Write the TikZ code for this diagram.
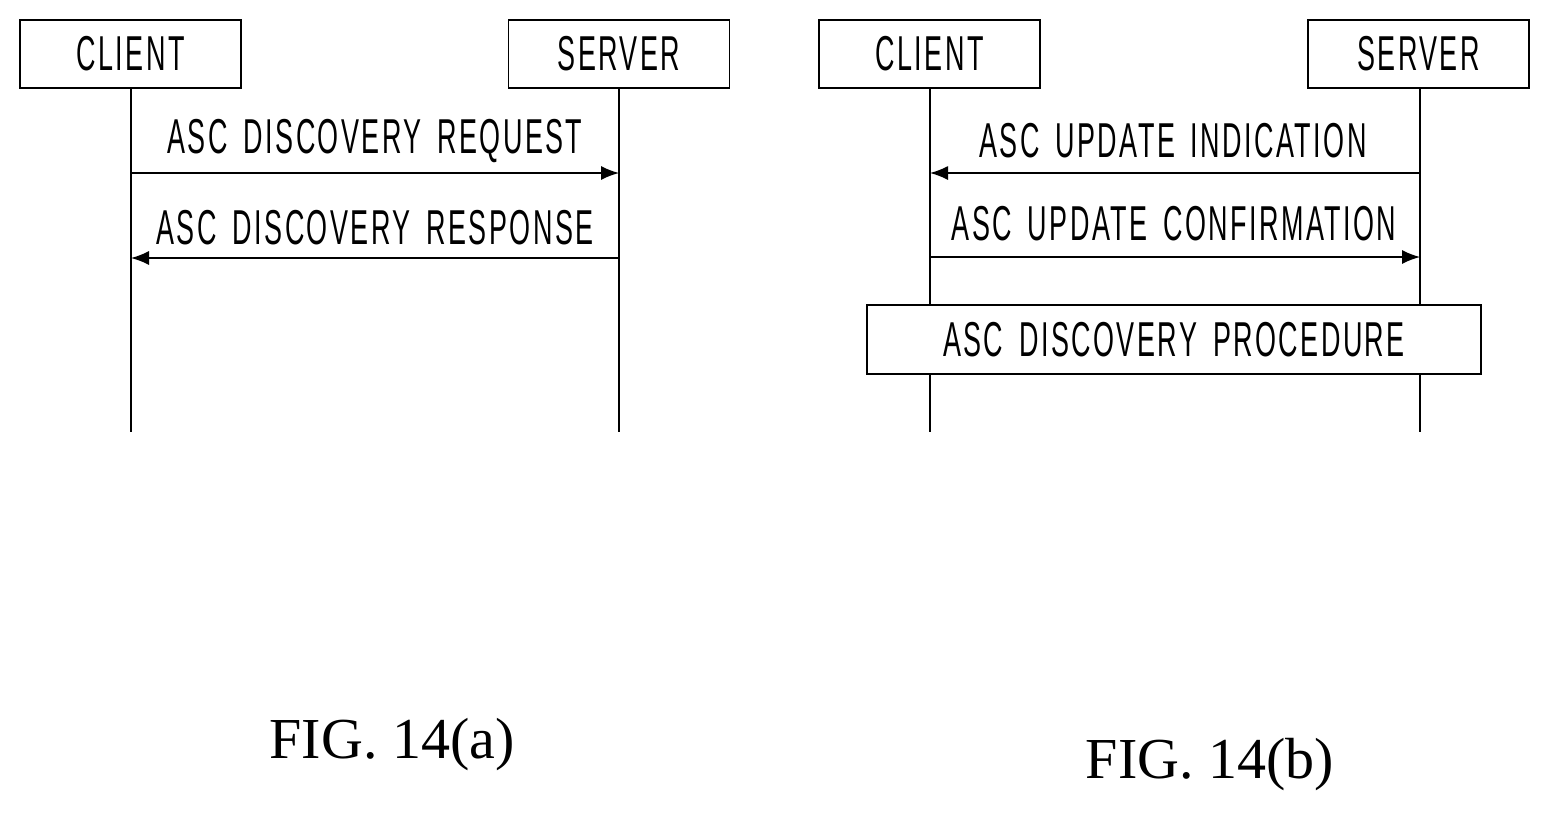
\documentclass[tikz,border=0pt]{standalone}
\usepackage{fontspec}
\setmainfont{Liberation Serif}
\newfontfamily\nar[FakeStretch=0.55,LetterSpace=5,WordSpace=1.6]{Liberation Sans}
\usetikzlibrary{arrows.meta}
\begin{document}
\begin{tikzpicture}[x=0.5pt,y=-0.5pt,
  ent/.style={draw,line width=0.8pt,minimum width=110.5pt,minimum height=34pt,inner sep=0pt,font=\nar\fontsize{24.5}{26}\selectfont},
  life/.style={line width=0.7pt},
  msg/.style={line width=0.7pt,-{Latex[length=9pt,width=7pt]}},
  lbl/.style={font=\nar\fontsize{24.5}{26}\selectfont,inner sep=0pt},
  proc/.style={draw,fill=white,line width=0.8pt,minimum width=307pt,minimum height=34.5pt,inner sep=0pt,font=\nar\fontsize{24.5}{26}\selectfont},
  fig/.style={font=\fontsize{29}{31}\selectfont,inner sep=0pt}]
\useasboundingbox (0,0) rectangle (1550,814);
% (a)
\node[ent] (ca) at (130.5,54) {CLIENT};
\node[ent] (sa) at (619,54) {SERVER};
\coordinate (ca1) at (131,173); \coordinate (sa1) at (619,173);
\coordinate (ca2) at (131,258); \coordinate (sa2) at (619,258);
\coordinate (cae) at (131,432); \coordinate (sae) at (619,432);
\draw[life] (ca.south -| ca1) -- (cae);
\draw[life] (sa.south -| sa1) -- (sae);
\draw[msg] (ca1) -- (sa1);
\draw[msg] (sa2) -- (ca2);
\node[lbl] (la1) at (375,141) {ASC DISCOVERY REQUEST};
\node[lbl] (la2) at (375,228) {ASC DISCOVERY RESPONSE};
\node[fig] (fa) at (392,745) {FIG. 14(a)};
% (b)
\node[ent] (cb) at (929.5,54) {CLIENT};
\node[ent] (sb) at (1418.5,54) {SERVER};
\coordinate (cb1) at (930,173); \coordinate (sb1) at (1420,173);
\coordinate (cb2) at (930,257); \coordinate (sb2) at (1420,257);
\coordinate (cbe) at (930,432); \coordinate (sbe) at (1420,432);
\draw[life] (cb.south -| cb1) -- (cbe);
\draw[life] (sb.south -| sb1) -- (sbe);
\draw[msg] (sb1) -- (cb1);
\draw[msg] (cb2) -- (sb2);
\node[lbl] (lb1) at (1173,141) {ASC UPDATE INDICATION};
\node[lbl] (lb2) at (1174,224) {ASC UPDATE CONFIRMATION};
\node[proc] (pb) at (1174,339.5) {ASC DISCOVERY PROCEDURE};
\node[fig] (fb) at (1210,765) {FIG. 14(b)};
\end{tikzpicture}
\end{document}
